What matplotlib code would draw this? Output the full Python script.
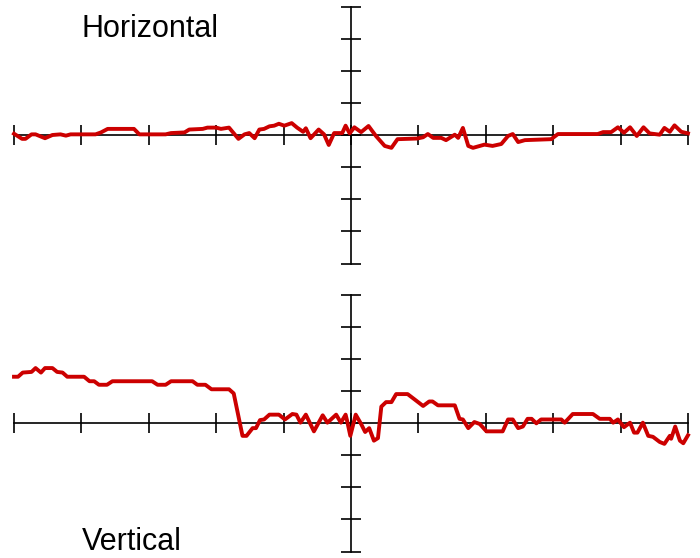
import matplotlib
matplotlib.use("Agg")
import matplotlib.pyplot as plt
import numpy as np

plt.rcParams['font.family'] = ['Liberation Sans', 'DejaVu Sans']

# horizontal trace (x, y)
horiz_x = [-5.0, -4.88, -4.83, -4.74, -4.68, -4.54, -4.43, -4.31, -4.23, -4.16,
           -3.79, -3.71, -3.61, -3.22, -3.14, -2.75, -2.67, -2.47, -2.40, -2.20,
           -2.13, -2.00, -1.93, -1.81, -1.67, -1.58, -1.51, -1.43, -1.36, -1.29,
           -1.21, -1.14, -1.07, -0.99, -0.88, -0.80, -0.71, -0.67, -0.60, -0.48,
           -0.40, -0.33, -0.25, -0.13, -0.08,
           -0.02, 0.05, 0.15, 0.26, 0.37, 0.50, 0.60, 0.69, 0.98, 1.07,
           1.14, 1.22, 1.34, 1.41, 1.54, 1.59, 1.66, 1.74, 1.81, 1.98,
           2.10, 2.23, 2.33, 2.40, 2.48, 2.58, 2.97, 3.07, 3.66, 3.74,
           3.86, 3.96, 4.05, 4.14, 4.24, 4.34, 4.43, 4.58, 4.65, 4.73,
           4.80, 4.90, 5.0]
horiz_y = [0.04, -0.12, -0.12, 0.02, 0.02, -0.10, 0.0, 0.02, -0.02, 0.02,
           0.02, 0.08, 0.19, 0.19, 0.02, 0.02, 0.06, 0.08, 0.17, 0.19,
           0.23, 0.23, 0.19, 0.23, -0.12, 0.02, 0.06, -0.10, 0.17, 0.19,
           0.27, 0.29, 0.35, 0.29, 0.37, 0.23, 0.10, 0.21, -0.10, 0.17,
           0.02, -0.31, 0.06, 0.06, 0.29,
           0.05, 0.24, 0.09, 0.28, -0.03, -0.34, -0.40, -0.13, -0.11, -0.07,
           0.03, -0.09, -0.09, -0.16, 0.01, -0.09, 0.22, -0.34, -0.40, -0.30,
           -0.34, -0.28, -0.03, 0.03, -0.22, -0.16, -0.13, 0.03, 0.03, 0.09,
           0.09, 0.24, 0.07, 0.24, -0.03, 0.24, 0.05, 0.01, 0.22, 0.10,
           0.30, 0.10, 0.05]

# vertical trace (x, y)
vert_x = [-5.0, -4.94, -4.87, -4.74, -4.68, -4.60, -4.54, -4.43, -4.36, -4.28,
          -4.21, -3.96, -3.88, -3.81, -3.74, -3.62, -3.54, -2.95, -2.87, -2.75,
          -2.67, -2.35, -2.28, -2.16, -2.07, -1.81, -1.74, -1.61, -1.55, -1.46,
          -1.41, -1.35, -1.29, -1.21, -1.07, -0.98, -0.87, -0.81, -0.75, -0.67,
          -0.55, -0.42, -0.35, -0.22, -0.15, -0.08,
          -0.06, -0.01, 0.07, 0.15, 0.21, 0.27, 0.34, 0.40, 0.45, 0.52,
          0.60, 0.67, 0.84, 0.94, 1.07, 1.16, 1.21, 1.29, 1.54, 1.61,
          1.66, 1.74, 1.83, 1.91, 2.01, 2.25, 2.33, 2.40, 2.48, 2.55,
          2.62, 2.68, 2.75, 2.82, 3.12, 3.17, 3.29, 3.59, 3.69, 3.84,
          3.89, 3.96, 4.05, 4.14, 4.20, 4.25, 4.33, 4.41, 4.48, 4.58,
          4.65, 4.73, 4.75, 4.81, 4.88, 4.93, 5.0]
vert_y = [1.44, 1.44, 1.57, 1.59, 1.71, 1.57, 1.71, 1.71, 1.59, 1.57,
          1.44, 1.44, 1.30, 1.30, 1.19, 1.19, 1.30, 1.30, 1.19, 1.19,
          1.30, 1.30, 1.19, 1.19, 1.05, 1.05, 0.92, -0.40, -0.40, -0.16,
          -0.16, 0.09, 0.11, 0.26, 0.26, 0.11, 0.28, 0.26, 0.01, 0.26,
          -0.26, 0.24, 0.01, 0.26, 0.01, 0.26,
          0.09, -0.40, 0.26, -0.03, -0.28, -0.16, -0.55, -0.47, 0.51, 0.65,
          0.65, 0.90, 0.90, 0.74, 0.53, 0.67, 0.67, 0.55, 0.55, 0.13,
          0.11, -0.16, 0.03, -0.03, -0.26, -0.26, 0.11, 0.11, -0.16, -0.11,
          0.13, 0.13, -0.01, 0.11, 0.11, 0.01, 0.28, 0.28, 0.13, 0.13,
          0.01, 0.11, -0.13, 0.01, -0.30, -0.30, 0.01, -0.40, -0.43, -0.59,
          -0.65, -0.40, -0.49, -0.11, -0.55, -0.63, -0.38]

xticks = np.arange(-5, 6)
yticks = np.arange(-4, 5)

fig = plt.figure(figsize=(7, 5.58), dpi=100)
ax_top = fig.add_axes([14/700, 1 - 263.5/558, 674/700, 257/558])
ax_bot = fig.add_axes([14/700, 1 - 551.5/558, 674/700, 257/558])

for ax, xs, ys in [(ax_top, horiz_x, horiz_y), (ax_bot, vert_x, vert_y)]:
    ax.plot(xs, ys, color='#cc0000', lw=2.8, clip_on=False, zorder=3)
    ax.set_xlim(-5, 5)
    ax.set_ylim(-4, 4)
    ax.spines['left'].set_position('zero')
    ax.spines['bottom'].set_position('zero')
    ax.spines['right'].set_visible(False)
    ax.spines['top'].set_visible(False)
    for s in ['left', 'bottom']:
        ax.spines[s].set_linewidth(1.2)
    ax.set_xticks(xticks)
    ax.set_yticks(yticks)
    ax.tick_params(direction='inout', length=14.4, width=1.2,
                   labelbottom=False, labelleft=False)
    ax.patch.set_visible(False)

fig.text(82/700, 1 - 37/558, 'Horizontal', fontsize=22, ha='left', va='baseline')
fig.text(82/700, 1 - 550/558, 'Vertical', fontsize=22, ha='left', va='baseline')

fig.savefig('out.png', dpi=100)
